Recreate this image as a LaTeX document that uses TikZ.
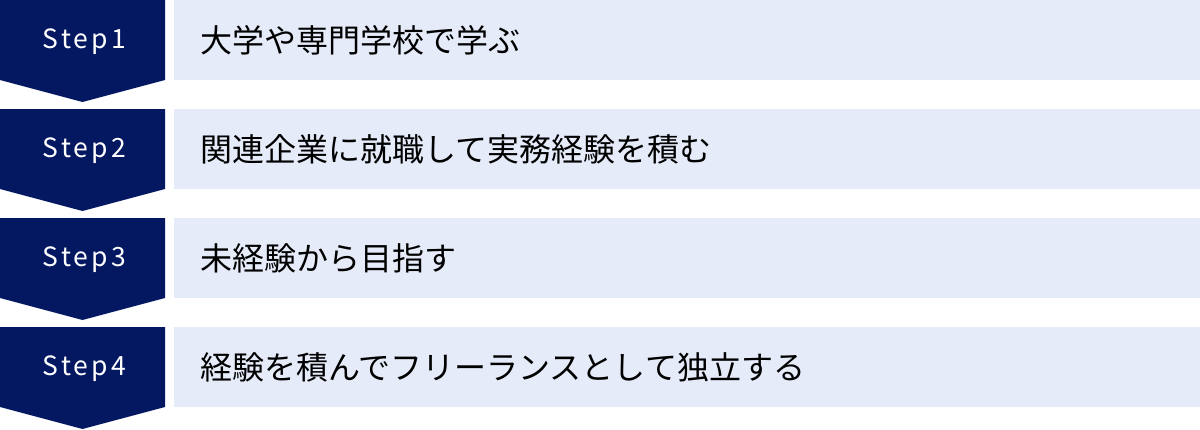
\documentclass[tikz,border=0pt]{standalone}
\usepackage{fontspec}
\newfontfamily\jpfont{Noto Sans CJK JP}
\newfontfamily\stepfont[LetterSpace=12]{Noto Sans CJK JP}
\definecolor{navy}{HTML}{041862}
\definecolor{lightbox}{HTML}{E5EBF9}
\tikzset{
  stepshape/.style={fill=navy, draw=none},
  textbox/.style={fill=lightbox, draw=none},
  steplabel/.style={text=white, font=\stepfont\fontsize{26.5}{30}\selectfont, inner sep=0pt, anchor=base},
  jplabel/.style={text=black, font=\jpfont\fontsize{32}{38}\selectfont, inner sep=0pt, anchor=west},
}
\begin{document}
\begin{tikzpicture}[x=1pt,y=-1pt]
\useasboundingbox (0,0) rectangle (1200,429);
\foreach \i/\txt in {1/大学や専門学校で学ぶ,2/関連企業に就職して実務経験を積む,3/未経験から目指す,4/経験を積んでフリーランスとして独立する}{
  \pgfmathsetmacro{\top}{(\i-1)*109}
  \fill[stepshape] (0,\top) -- (165,\top) -- (165,\top+80) -- (82.5,\top+102) -- (0,\top+80) -- cycle;
  \fill[textbox] (174,\top) rectangle (1200,\top+80);
  \node[steplabel] (s\i) at (84.5,\top+48.7) {Step\i};
  \node[jplabel] (t\i) at (200,\top+40) {\txt};
}
\end{tikzpicture}
\end{document}
